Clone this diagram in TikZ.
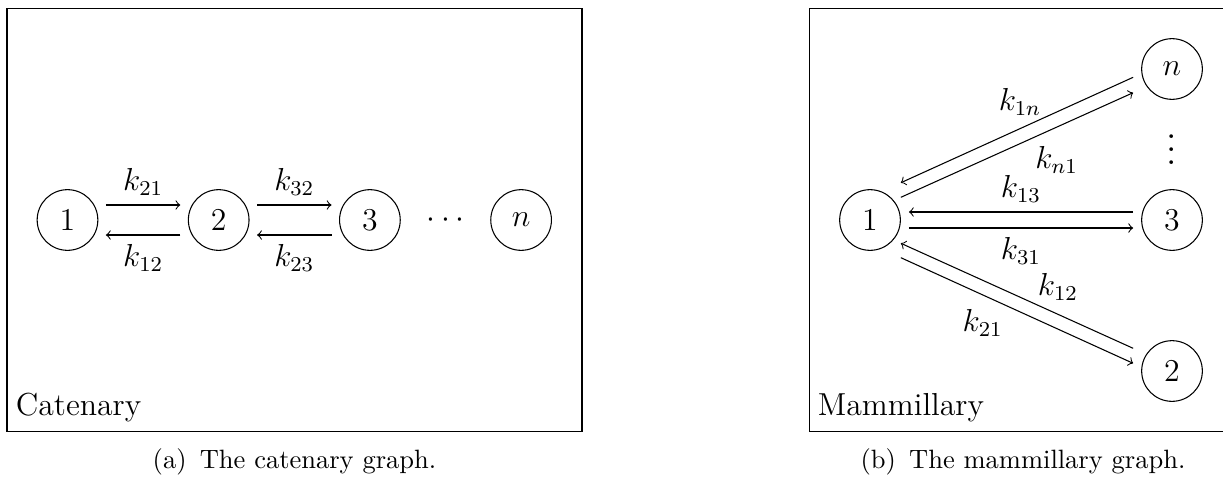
\documentclass[tikz,border=0pt]{standalone}
\usetikzlibrary{calc}
\begin{document}
\begin{tikzpicture}[x=0.3774pt,y=-0.3774pt,
  state/.style={draw,circle,minimum size=22.9pt,inner sep=0pt,font=\large},
  arr/.style={->},
  lbl/.style={font=\large},
  panel/.style={draw,inner sep=0pt,minimum height=159.3pt},
  tag/.style={anchor=south west,font=\large},
  captext/.style={anchor=base,font=\normalsize}]
\useasboundingbox (0,0) rectangle (1223,476);
% ---------- left panel: catenary ----------
\node[panel,minimum width=217pt] (lbox) at (294.5,220) {};
\node[tag] (ltag) at (lbox.south west) {Catenary};
\node[captext] (lcap) at (294.5,468.5) {(a)\enspace The catenary graph.};
\node[state] (a1) at (67.5,220) {$1$};
\node[state] (a2) at (218.7,220) {$2$};
\node[state] (a3) at (369.9,220) {$3$};
\node[lbl] (adots) at (445.5,220) {$\cdots$};
\node[state] (an) at (521.1,220) {$n$};
\draw[arr] ($(a1.east)+(7.5,-15)$) -- node[lbl,above] (l21) {$k_{21}$} ($(a2.west)+(-7.5,-15)$);
\draw[arr] ($(a2.west)+(-7.5,15)$) -- node[lbl,below] (l12) {$k_{12}$} ($(a1.east)+(7.5,15)$);
\draw[arr] ($(a2.east)+(7.5,-15)$) -- node[lbl,above] (l32) {$k_{32}$} ($(a3.west)+(-7.5,-15)$);
\draw[arr] ($(a3.west)+(-7.5,15)$) -- node[lbl,below] (l23) {$k_{23}$} ($(a2.east)+(7.5,15)$);
% ---------- right panel: mammillary ----------
\node[panel,minimum width=161.5pt] (rbox) at (1023,220) {};
\node[tag] (rtag) at (rbox.south west) {Mammillary};
\node[captext] (rcap) at (1023,468.5) {(b)\enspace The mammillary graph.};
\node[state] (b1) at (870,220) {$1$};
\node[state] (bn) at (1172,69) {$n$};
\node[state] (b3) at (1172,220) {$3$};
\node[state] (b2) at (1172,371) {$2$};
\node[lbl] (bdots) at (1172,140) {\scalebox{1.2}{$\vdots$}};
% 1 <-> n
\draw[arr] ($(bn.west)+(-8,8.3)$) -- ($(b1.east)+(0,-37.3)$);
\draw[arr] ($(b1.east)+(0,-22.7)$) -- ($(bn.west)+(-8,23.7)$);
\node[lbl] (l1n) at (1020,101.7) {$k_{1n}$};
\node[lbl] (ln1) at (1056.7,160) {$k_{n1}$};
% 1 <-> 3
\draw[arr] ($(b3.west)+(-8,-8)$) -- node[lbl,above] (l13) {$k_{13}$} ($(b1.east)+(8,-8)$);
\draw[arr] ($(b1.east)+(8,8)$) -- node[lbl,below] (l31) {$k_{31}$} ($(b3.west)+(-8,8)$);
% 1 <-> 2
\draw[arr] ($(b2.west)+(-8,-22.7)$) -- ($(b1.east)+(0,23.3)$);
\draw[arr] ($(b1.east)+(0,37.7)$) -- ($(b2.west)+(-8,-7.7)$);
\node[lbl] (l12b) at (1058,286.7) {$k_{12}$};
\node[lbl] (l21b) at (982.7,323.3) {$k_{21}$};
\end{tikzpicture}
\end{document}
